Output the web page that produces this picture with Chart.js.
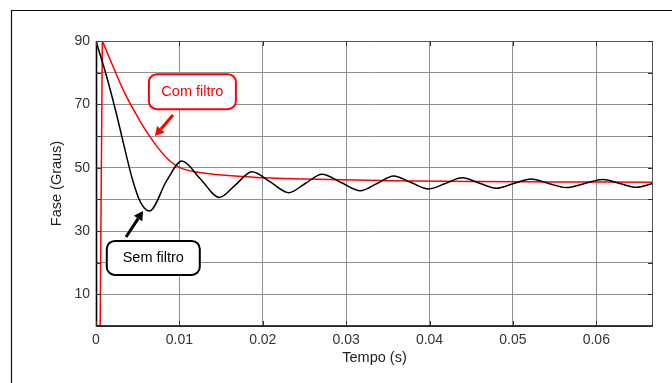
<!DOCTYPE html>
<html>
<head>
<meta charset="utf-8">
<script src="https://cdn.jsdelivr.net/npm/chart.js@4.4.1/dist/chart.umd.min.js"></script>
<style>
  html, body { margin: 0; padding: 0; background: #fff; }
  #wrap { width: 672px; height: 383px; }
</style>
</head>
<body>
<div id="wrap"><canvas id="faseChart" width="672" height="383"></canvas></div>
<script>
// Phase response, with and without filter
const xTicks = [0, 0.01, 0.02, 0.03, 0.04, 0.05, 0.06];
const yTicks = [0, 10, 20, 30, 40, 50, 60, 70, 80, 90];
const yLabelled = [10, 30, 50, 70, 90];

// Sem filtro (black)
const tempoSemStep = [0, 0];
const faseSemStep = [0, 90];
const tempoSem = [0, 0.0012, 0.0024, 0.0034, 0.0044, 0.0053, 0.0064, 0.0085, 0.0103, 0.0125, 0.0148,
  0.0167, 0.0187, 0.0209, 0.0231, 0.0251, 0.0271, 0.0294, 0.0317, 0.0337, 0.0357,
  0.0378, 0.0399, 0.0419, 0.0439, 0.046, 0.048, 0.0501, 0.0522, 0.0543, 0.0564,
  0.0586, 0.0608, 0.0628, 0.0648, 0.0668];
const faseSem = [90, 79.5, 67.5, 56.5, 46, 39.3, 36.3, 46, 52.1, 46.5, 40.6,
  44.5, 48.7, 45.5, 42.1, 45, 47.9, 45.3, 42.7, 45, 47.4,
  45.3, 43.3, 45, 46.8, 45.1, 43.5, 45, 46.4, 45, 43.7,
  45, 46.3, 45, 43.8, 45];

// Com filtro (red)
const tempoComStep = [0, 0.0005, 0.00076];
const faseComStep = [0, 0, 90];
const tempoCom = [0.00076, 0.00168, 0.00327, 0.00528, 0.00728, 0.00887, 0.01007, 0.01207,
  0.01882, 0.025, 0.035, 0.045, 0.055, 0.0668];
const faseCom = [90, 84.2, 74.5, 64.7, 56.8, 52.1, 50, 48.6,
  47, 46.4, 45.9, 45.6, 45.5, 45.4];

const pts = (xs, ys) => xs.map((x, i) => ({ x, y: ys[i] }));

const FONT = "'Liberation Sans', Arial, sans-serif";
const GRID = '#8f8f8f';

// callouts in data coordinates
const callouts = [
  { text: 'Com filtro', color: '#ff0000', x: 0.01156, y: 74, w: 87, h: 35,
    from: [0.00923, 66.6], to: [0.00707, 60] },
  { text: 'Sem filtro', color: '#000000', x: 0.00687, y: 21.5, w: 93, h: 34,
    from: [0.0036, 28.1], to: [0.00564, 36.3] }
];

function roundRect(ctx, x, y, w, h, r) {
  ctx.beginPath();
  ctx.moveTo(x + r, y);
  ctx.arcTo(x + w, y, x + w, y + h, r);
  ctx.arcTo(x + w, y + h, x, y + h, r);
  ctx.arcTo(x, y + h, x, y, r);
  ctx.arcTo(x, y, x + w, y, r);
  ctx.closePath();
}

const framePlugin = {
  id: 'frame',
  beforeDraw(chart) {
    const ctx = chart.ctx;
    ctx.save();
    ctx.fillStyle = '#fff';
    ctx.fillRect(0, 0, chart.width, chart.height);
    ctx.strokeStyle = '#111';
    ctx.lineWidth = 1.2;
    ctx.beginPath();
    ctx.moveTo(11.5, chart.height);
    ctx.lineTo(11.5, 10.5);
    ctx.lineTo(chart.width, 10.5);
    ctx.stroke();
    ctx.restore();
  },
  afterDatasetsDraw(chart) {
    const { ctx, chartArea: a, scales: { x, y } } = chart;
    ctx.save();
    // box: top and right
    ctx.strokeStyle = '#555';
    ctx.lineWidth = 1;
    ctx.beginPath();
    ctx.moveTo(a.left, a.top + 0.5);
    ctx.lineTo(a.right - 0.5, a.top + 0.5);
    ctx.lineTo(a.right - 0.5, a.bottom);
    ctx.stroke();
    // bottom and left axes
    ctx.strokeStyle = '#000';
    ctx.lineWidth = 1.6;
    ctx.beginPath();
    ctx.moveTo(a.left + 0.5, a.top);
    ctx.lineTo(a.left + 0.5, a.bottom);
    ctx.lineTo(a.right, a.bottom);
    ctx.stroke();
    // inward tick marks
    ctx.strokeStyle = '#333';
    ctx.lineWidth = 1;
    ctx.beginPath();
    xTicks.forEach(v => {
      const px = Math.round(x.getPixelForValue(v)) + 0.5;
      ctx.moveTo(px, a.bottom); ctx.lineTo(px, a.bottom - 5);
      ctx.moveTo(px, a.top); ctx.lineTo(px, a.top + 5);
    });
    yTicks.forEach(v => {
      const py = Math.round(y.getPixelForValue(v)) + 0.5;
      ctx.moveTo(a.left, py); ctx.lineTo(a.left + 5, py);
      ctx.moveTo(a.right, py); ctx.lineTo(a.right - 5, py);
    });
    ctx.stroke();

    // callouts
    callouts.forEach(c => {
      const cx = x.getPixelForValue(c.x), cy = y.getPixelForValue(c.y);
      ctx.fillStyle = '#fff';
      ctx.strokeStyle = c.color;
      ctx.lineWidth = 2;
      roundRect(ctx, cx - c.w / 2, cy - c.h / 2, c.w, c.h, 8);
      ctx.fill();
      ctx.stroke();
      ctx.fillStyle = c.color;
      ctx.font = '14.5px ' + FONT;
      ctx.textAlign = 'center';
      ctx.textBaseline = 'middle';
      ctx.fillText(c.text, cx, cy);

      const x0 = x.getPixelForValue(c.from[0]), y0 = y.getPixelForValue(c.from[1]);
      const x1 = x.getPixelForValue(c.to[0]), y1 = y.getPixelForValue(c.to[1]);
      const ang = Math.atan2(y1 - y0, x1 - x0);
      const hl = 9, hw = 5;
      const bx = x1 - hl * Math.cos(ang), by = y1 - hl * Math.sin(ang);
      ctx.lineWidth = 3;
      ctx.beginPath();
      ctx.moveTo(x0, y0);
      ctx.lineTo(bx, by);
      ctx.stroke();
      ctx.beginPath();
      ctx.moveTo(x1, y1);
      ctx.lineTo(bx + hw * Math.sin(ang), by - hw * Math.cos(ang));
      ctx.lineTo(bx - hw * Math.sin(ang), by + hw * Math.cos(ang));
      ctx.closePath();
      ctx.fill();
    });
    ctx.restore();
  }
};

const line = (data, color, smooth) => ({
  data,
  borderColor: color,
  borderWidth: 1.5,
  pointRadius: 0,
  fill: false,
  cubicInterpolationMode: smooth ? 'monotone' : 'default',
  tension: 0
});

new Chart(document.getElementById('faseChart'), {
  type: 'line',
  data: {
    datasets: [
      line(pts(tempoSemStep, faseSemStep), '#000', false),
      line(pts(tempoSem, faseSem), '#000', true),
      line(pts(tempoComStep, faseComStep), '#ff0000', false),
      line(pts(tempoCom, faseCom), '#ff0000', true)
    ]
  },
  options: {
    responsive: false,
    animation: false,
    layout: { padding: { top: 41, right: 19, left: 0, bottom: 0 } },
    plugins: { legend: { display: false }, tooltip: { enabled: false } },
    scales: {
      x: {
        type: 'linear',
        min: 0,
        max: 0.0668,
        afterBuildTicks: s => { s.ticks = xTicks.map(v => ({ value: v })); },
        afterFit: s => { s.height = 57; },
        grid: { color: GRID, lineWidth: 1, drawTicks: false },
        border: { display: false },
        ticks: {
          padding: 6,
          color: '#333',
          font: { family: FONT, size: 14 },
          maxRotation: 0,
          callback: v => v === 0 ? '0' : v.toFixed(2)
        },
        title: {
          display: true,
          text: 'Tempo (s)',
          color: '#222',
          font: { family: FONT, size: 14.5 },
          padding: { top: 0, bottom: 16 }
        }
      },
      y: {
        min: 0,
        max: 90,
        afterBuildTicks: s => { s.ticks = yTicks.map(v => ({ value: v })); },
        afterFit: s => { s.width = 96; },
        grid: { color: GRID, lineWidth: 1, drawTicks: false },
        border: { display: false },
        ticks: {
          padding: 6,
          color: '#333',
          font: { family: FONT, size: 14 },
          callback: v => yLabelled.includes(v) ? String(v) : ''
        },
        title: {
          display: true,
          text: 'Fase (Graus)',
          color: '#222',
          font: { family: FONT, size: 14.5 },
          padding: { top: 48, bottom: 0 }
        }
      }
    }
  },
  plugins: [framePlugin]
});
</script>
</body>
</html>
